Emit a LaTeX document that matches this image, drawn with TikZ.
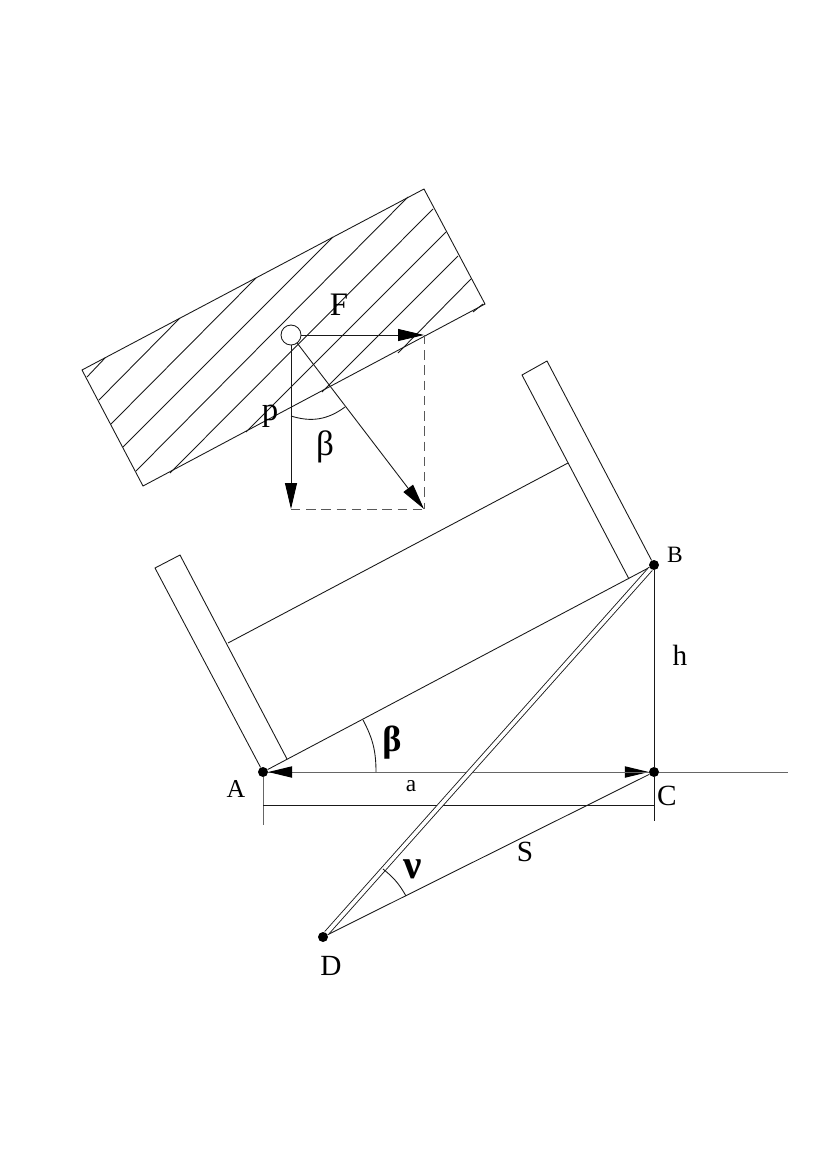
\documentclass[tikz,border=0pt]{standalone}
\usepackage{fontspec}
\setmainfont{Liberation Serif}
\usetikzlibrary{arrows.meta}
\tikzset{
    line/.style={line width=0.75pt, color=black!90},
    force/.style={line, -{Triangle[length=0.78cm, width=0.36cm, color=black]}},
    support/.style={line, line width=0.85pt, dash pattern=on 8pt off 5pt, color=black!65},
    axis/.style={line, line width=0.85pt, color=black!60},
    slidehead/.style={-{Triangle[length=0.72cm, width=0.34cm, color=black]}},
    dot/.style={circle, fill=black, inner sep=0pt, minimum size=0.3cm},
    hinge/.style={circle, draw=black!90, line width=0.75pt, fill=white, inner sep=0pt, minimum size=0.6cm},
    tag/.style={inner sep=0pt},
    small/.style={tag, font=\fontsize{20}{20}\selectfont},
    big/.style={tag, font=\fontsize{25}{25}\selectfont},
    greek/.style={tag, font=\fontsize{31}{31}\selectfont\bfseries},
}
\begin{document}
\begin{tikzpicture}[x=0.03cm, y=-0.03cm]
    \useasboundingbox (0,0) rectangle (826,1169);

    % sliding block
    \draw[line] (424,189) -- (485,304) -- (143,486) -- (82,370) -- cycle;
    \foreach \xa/\ya/\xb/\yb in {87/377/105/358, 99/400/180/318, 111/424/256/278,
        123/447/333/237, 136/471/408/197, 170/473/433/209, 246/432/446/232,
        322/392/458/256, 398/353/471/279, 473/312/483/304}
        \draw[line] (\xa,\ya) -- (\xb,\yb);

    % forces on the block
    \node[hinge] (pin) at (291,335) {};
    \coordinate (fend) at (424,335);
    \coordinate (pend) at (291,509);
    \coordinate (rend) at (424,509);
    \draw[force] (pin) -- (fend);
    \draw[force] (pin) -- (pend);
    \draw[force] (pin) -- (rend);
    \draw[support] (fend) -- (rend);
    \draw[support] (pend) -- (rend);
    \coordinate (angleL) at (291,416);
    \coordinate (angleR) at (345,407);
    \draw[line] (angleL) to[bend right=27] (angleR);

    \node[tag, font=\fontsize{28}{28}\selectfont] (labelF) at (339,305) {F};
    \node[tag, font=\fontsize{28}{28}\selectfont] (labelp) at (270,416) {p};
    \node[tag, font=\fontsize{30}{30}\selectfont] (betaTop) at (325,447) {β};

    % points
    \node[dot] (A) at (263,772) {};
    \node[dot] (B) at (654,565) {};
    \node[dot] (C) at (654,772) {};
    \node[dot] (D) at (323,937) {};
    \coordinate (far) at (788,772);
    \coordinate (dimA) at (263,825);
    \coordinate (dimC) at (654,821);
    \coordinate (dimAm) at (263,805);
    \coordinate (dimCm) at (654,805);

    % chute on the slope
    \coordinate (footL) at (287,759);
    \coordinate (footR) at (629,579);
    \coordinate (wallL) at (228,643);
    \coordinate (wallR) at (568,463);
    \draw[line] (A) -- (155,568) -- (180,555) -- (footL);
    \draw[line] (B) -- (547,361) -- (522,375) -- (footR);
    \draw[line] (A) -- (B);
    \draw[line] (wallL) -- (wallR);

    % triangle
    \draw[axis, slidehead] (A) -- (C);
    \draw[axis, slidehead] (C) -- (A);
    \draw[axis] (C) -- (far);
    \draw[line] (B) -- (C);
    \draw[line] (C) -- (dimC);
    \draw[axis] (A) -- (dimA);
    \draw[line] (dimAm) -- (dimCm);
    \draw[line] (D) -- (C);
    \draw[line, double=white, double distance=0.11cm] (D) -- (B);

    \coordinate (arcAa) at (376,772);
    \coordinate (arcAb) at (363,720);
    \draw[line] (arcAa) to[bend right=14] (arcAb);
    \coordinate (arcDa) at (383,869);
    \coordinate (arcDb) at (406,896);
    \draw[line] (arcDa) to[bend left=11] (arcDb);

    \node[tag, font=\fontsize{22}{22}\selectfont] (labelA) at (236,789) {A};
    \node[small] (labelB) at (675,555) {B};
    \node[big] (labelC) at (667,796) {C};
    \node[big] (labelD) at (331,966) {D};
    \node[small] (labela) at (411,786) {a};
    \node[big] (labelh) at (680,655) {h};
    \node[big] (labelS) at (525,852) {S};
    \node[greek] (betaLow) at (392,743) {β};
    \node[greek, font=\fontsize{35}{35}\selectfont\bfseries] (nu) at (413,869) {ν};
\end{tikzpicture}
\end{document}
